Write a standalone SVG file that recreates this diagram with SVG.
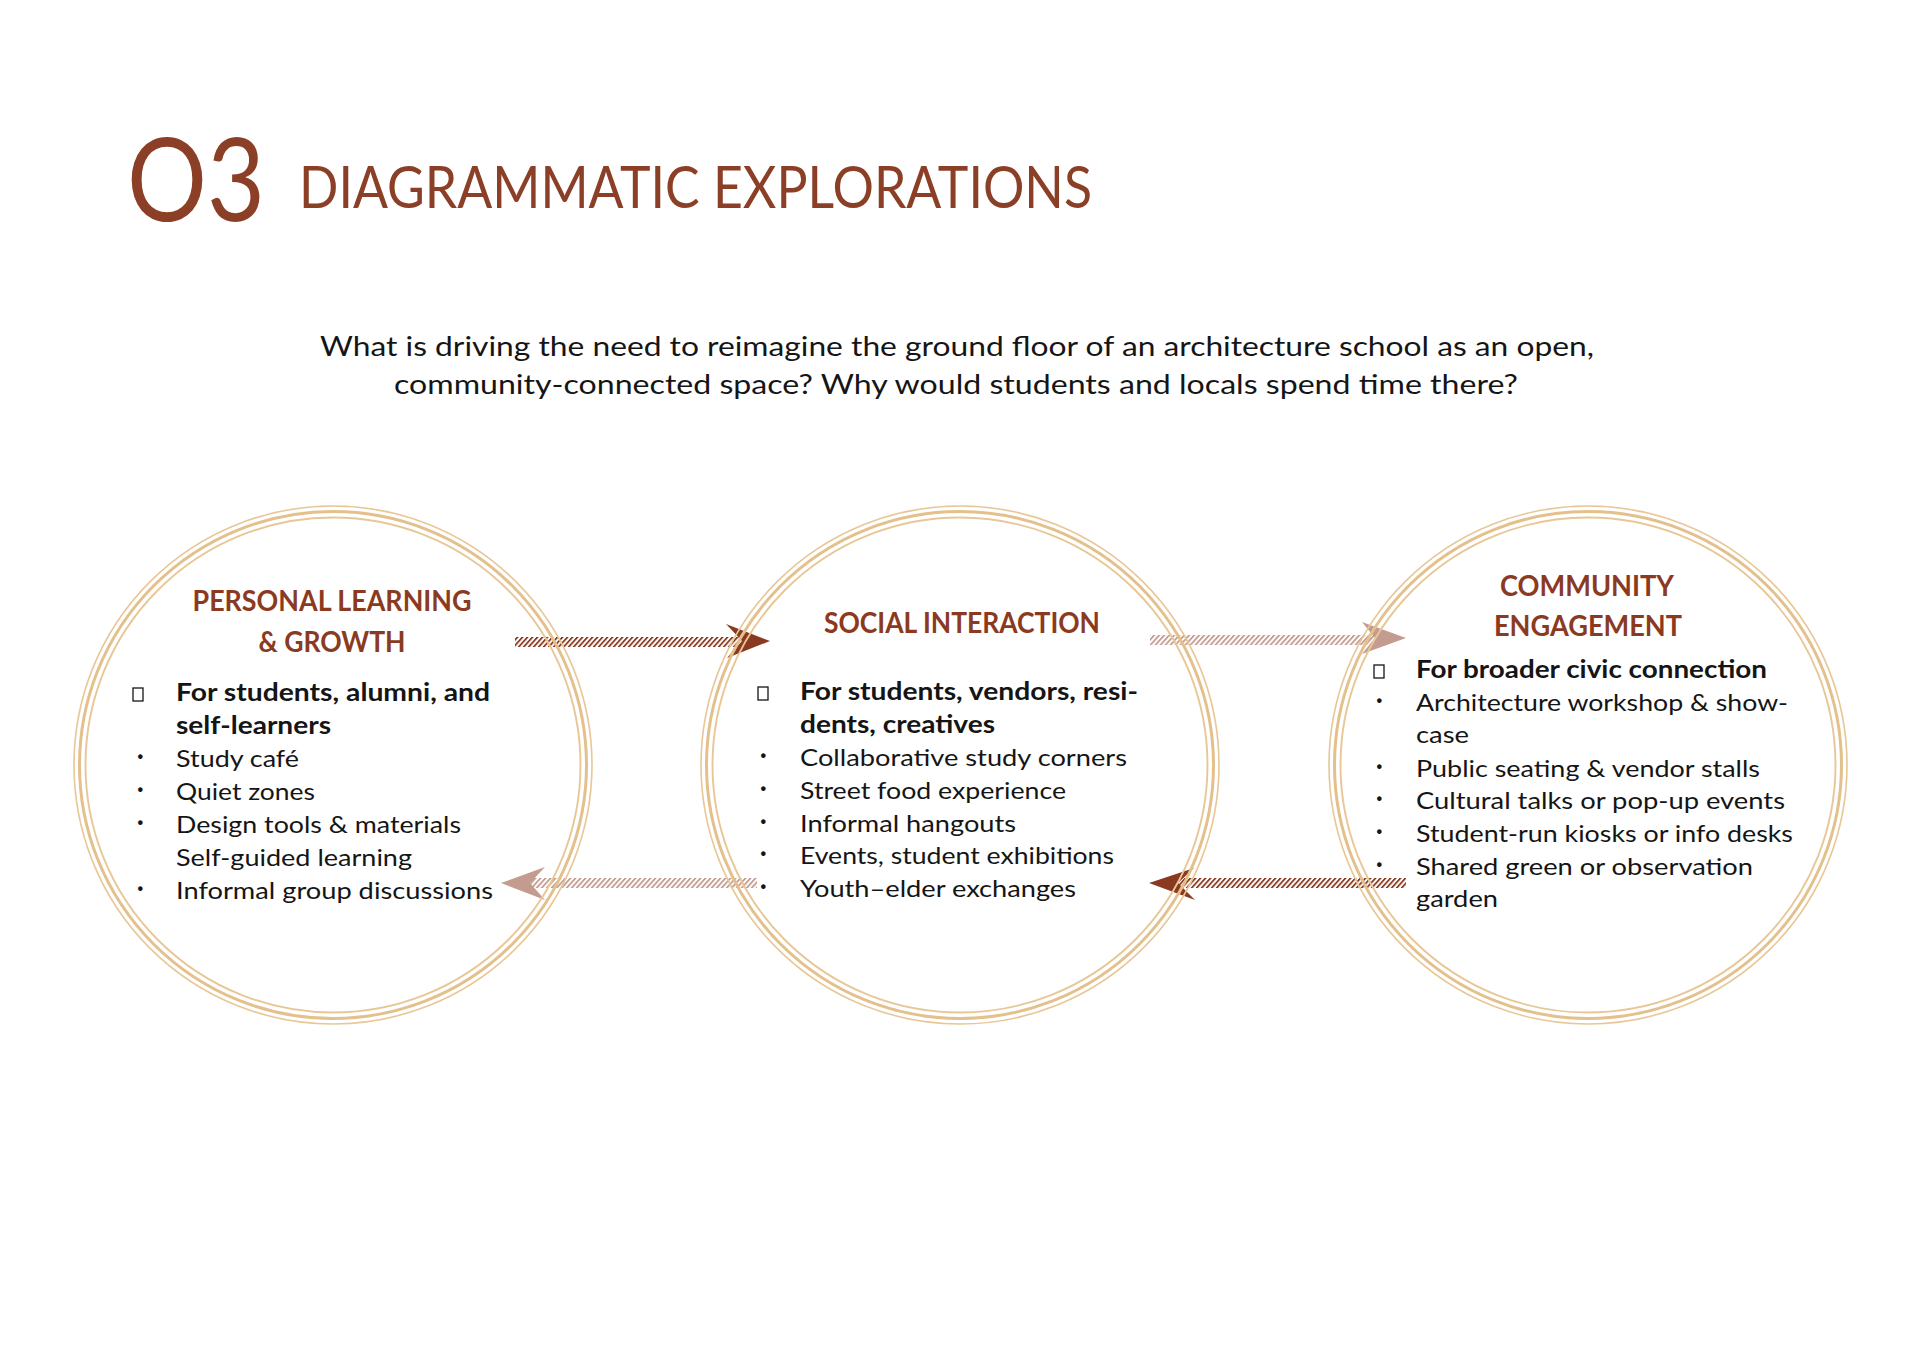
<svg xmlns="http://www.w3.org/2000/svg" width="1920" height="1357" viewBox="0 0 1920 1357">
<style>
.ring1{fill:none;stroke:#E8C797;stroke-width:1.6}
.ring2{fill:none;stroke:#E4C08C;stroke-width:3}
.ring3{fill:none;stroke:#E8C797;stroke-width:1.9}
.head{font-family:Lato,"Open Sans",sans-serif;font-size:29px;fill:#8B3A1F;text-anchor:middle;font-weight:bold}
.body{font-family:Lato,"Open Sans",sans-serif;font-size:24px;fill:#151515}
.bold{font-weight:bold}
.dot{font-family:Lato,"Open Sans",sans-serif;font-size:24px;fill:#151515;font-weight:bold}
.box{fill:none;stroke:#151515;stroke-width:1.3}
.dark{fill:#8B3A22}
</style>
<defs>
<pattern id="hatch" patternUnits="userSpaceOnUse" width="5" height="20" patternTransform="skewX(-42)">
<rect x="0" y="0" width="2.4" height="20" fill="#8B3A22"/>
</pattern>
</defs>
<rect width="1920" height="1357" fill="#ffffff"/>

<g id="title">
<text x="127" y="221" font-family="Lato,'Open Sans',sans-serif" font-size="116" fill="#8B3F26" textLength="138" lengthAdjust="spacingAndGlyphs">O3</text>
<text x="299" y="208" font-family="Lato,'Open Sans',sans-serif" font-size="59" fill="#8B3F26" textLength="793" lengthAdjust="spacingAndGlyphs">DIAGRAMMATIC EXPLORATIONS</text>
</g>

<g id="question" font-family="Lato,'Open Sans',sans-serif" font-size="27" fill="#151515">
<text x="320" y="356" textLength="1274" lengthAdjust="spacingAndGlyphs">What is driving the need to reimagine the ground floor of an architecture school as an open,</text>
<text x="394" y="394" textLength="1124" lengthAdjust="spacingAndGlyphs">community-connected space? Why would students and locals spend time there?</text>
</g>

<g id="connectors">
<g id="arrow-personal-to-social">
<rect x="515" y="637" width="228" height="10" fill="url(#hatch)"/>
<polygon class="dark" points="770,641 726,624 742,641 727,658"/>
</g>
<g id="arrow-social-to-community" opacity="0.5">
<rect x="1150" y="635" width="227" height="10" fill="url(#hatch)"/>
<polygon fill="#8B3A22" points="1406,638 1362,622 1375,638 1362,654"/>
</g>
<g id="arrow-social-to-personal" opacity="0.5">
<rect x="528" y="878" width="229" height="10" fill="url(#hatch)"/>
<polygon fill="#8B3A22" points="501,883 545,867 530,883 545,900"/>
</g>
<g id="arrow-community-to-social">
<rect x="1177" y="878" width="229" height="10" fill="url(#hatch)"/>
<polygon class="dark" points="1149,883 1194,868 1178,883 1195,900"/>
</g>
</g>

<g id="node-personal">
<circle class="ring1" cx="333" cy="765" r="259"/>
<circle class="ring2" cx="333" cy="765" r="253.5"/>
<circle class="ring3" cx="333" cy="765" r="247.5"/>
<text class="head" x="332" y="611" textLength="279" lengthAdjust="spacingAndGlyphs">PERSONAL LEARNING</text>
<text class="head" x="332" y="652" textLength="147" lengthAdjust="spacingAndGlyphs">&amp; GROWTH</text>
<rect class="box" x="133" y="688" width="10" height="13"/>
<text class="body bold" x="176" y="701" textLength="314" lengthAdjust="spacingAndGlyphs">For students, alumni, and</text>
<text class="body bold" x="176" y="734" textLength="155" lengthAdjust="spacingAndGlyphs">self-learners</text>
<text class="dot" x="137" y="764">·</text>
<text class="body" x="176" y="767" textLength="123" lengthAdjust="spacingAndGlyphs">Study café</text>
<text class="dot" x="137" y="797">·</text>
<text class="body" x="176" y="800" textLength="139" lengthAdjust="spacingAndGlyphs">Quiet zones</text>
<text class="dot" x="137" y="830">·</text>
<text class="body" x="176" y="833" textLength="285" lengthAdjust="spacingAndGlyphs">Design tools &amp; materials</text>
<text class="body" x="176" y="866" textLength="236" lengthAdjust="spacingAndGlyphs">Self-guided learning</text>
<text class="dot" x="137" y="896">·</text>
<text class="body" x="176" y="899" textLength="317" lengthAdjust="spacingAndGlyphs">Informal group discussions</text>
</g>

<g id="node-social">
<circle class="ring1" cx="960" cy="765" r="259"/>
<circle class="ring2" cx="960" cy="765" r="253.5"/>
<circle class="ring3" cx="960" cy="765" r="247.5"/>
<text class="head" x="962" y="633" textLength="276" lengthAdjust="spacingAndGlyphs">SOCIAL INTERACTION</text>
<rect class="box" x="758" y="687" width="10" height="13"/>
<text class="body bold" x="800" y="700" textLength="338" lengthAdjust="spacingAndGlyphs">For students, vendors, resi-</text>
<text class="body bold" x="800" y="733" textLength="195" lengthAdjust="spacingAndGlyphs">dents, creatives</text>
<text class="dot" x="760" y="763">·</text>
<text class="body" x="800" y="766" textLength="327" lengthAdjust="spacingAndGlyphs">Collaborative study corners</text>
<text class="dot" x="760" y="796">·</text>
<text class="body" x="800" y="799" textLength="266" lengthAdjust="spacingAndGlyphs">Street food experience</text>
<text class="dot" x="760" y="829">·</text>
<text class="body" x="800" y="832" textLength="216" lengthAdjust="spacingAndGlyphs">Informal hangouts</text>
<text class="dot" x="760" y="861">·</text>
<text class="body" x="800" y="864" textLength="314" lengthAdjust="spacingAndGlyphs">Events, student exhibitions</text>
<text class="dot" x="760" y="894">·</text>
<text class="body" x="800" y="897" textLength="276" lengthAdjust="spacingAndGlyphs">Youth–elder exchanges</text>
</g>

<g id="node-community">
<circle class="ring1" cx="1588" cy="765" r="259"/>
<circle class="ring2" cx="1588" cy="765" r="253.5"/>
<circle class="ring3" cx="1588" cy="765" r="247.5"/>
<text class="head" x="1587" y="596" textLength="174" lengthAdjust="spacingAndGlyphs">COMMUNITY</text>
<text class="head" x="1588" y="636" textLength="188" lengthAdjust="spacingAndGlyphs">ENGAGEMENT</text>
<rect class="box" x="1374" y="665" width="10" height="13"/>
<text class="body bold" x="1416" y="678" textLength="351" lengthAdjust="spacingAndGlyphs">For broader civic connection</text>
<text class="dot" x="1376" y="708">·</text>
<text class="body" x="1416" y="711" textLength="372" lengthAdjust="spacingAndGlyphs">Architecture workshop &amp; show-</text>
<text class="body" x="1416" y="743" textLength="53" lengthAdjust="spacingAndGlyphs">case</text>
<text class="dot" x="1376" y="774">·</text>
<text class="body" x="1416" y="777" textLength="344" lengthAdjust="spacingAndGlyphs">Public seating &amp; vendor stalls</text>
<text class="dot" x="1376" y="806">·</text>
<text class="body" x="1416" y="809" textLength="369" lengthAdjust="spacingAndGlyphs">Cultural talks or pop-up events</text>
<text class="dot" x="1376" y="839">·</text>
<text class="body" x="1416" y="842" textLength="377" lengthAdjust="spacingAndGlyphs">Student-run kiosks or info desks</text>
<text class="dot" x="1376" y="872">·</text>
<text class="body" x="1416" y="875" textLength="337" lengthAdjust="spacingAndGlyphs">Shared green or observation</text>
<text class="body" x="1416" y="907" textLength="82" lengthAdjust="spacingAndGlyphs">garden</text>
</g>
</svg>
